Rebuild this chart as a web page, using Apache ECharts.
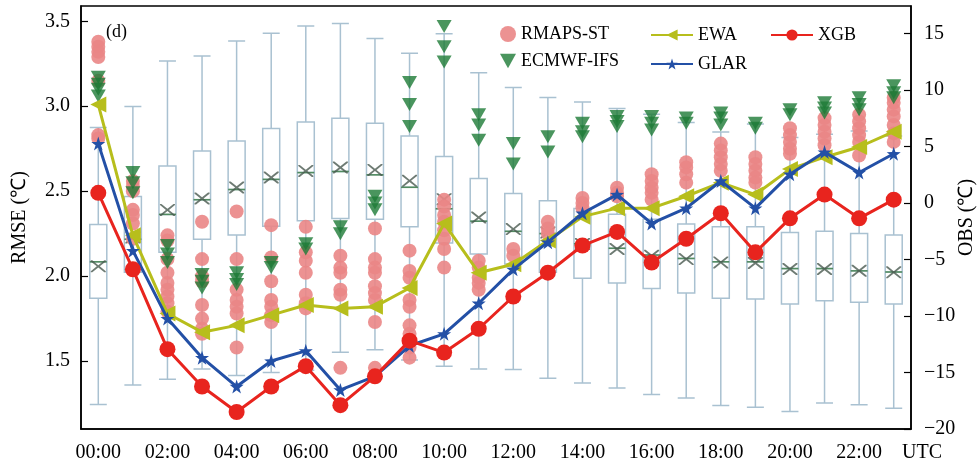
<!DOCTYPE html>
<html>
<head>
<meta charset="utf-8">
<script src="https://cdn.jsdelivr.net/npm/echarts@6/dist/echarts.min.js"></script>
<style>
html,body{margin:0;padding:0;background:#fff;}
#chart{width:979px;height:469px;}
</style>
</head>
<body>
<div id="chart"></div>
<script>
const hours = ['00:00','01:00','02:00','03:00','04:00','05:00','06:00','07:00','08:00','09:00','10:00','11:00',
  '12:00','13:00','14:00','15:00','16:00','17:00','18:00','19:00','20:00','21:00','22:00','23:00'];

// RMSE lines (left axis)
const ewa  = [3.01,2.24,1.78,1.67,1.71,1.77,1.83,1.81,1.82,1.93,2.31,2.02,2.07,2.21,2.35,2.40,2.40,2.47,2.55,2.48,2.63,2.70,2.76,2.85];
const glar = [2.78,2.15,1.75,1.52,1.35,1.50,1.56,1.33,1.41,1.59,1.66,1.84,2.04,2.20,2.37,2.48,2.31,2.40,2.56,2.40,2.60,2.73,2.61,2.72];
const xgb  = [2.49,2.04,1.57,1.35,1.20,1.35,1.47,1.24,1.41,1.62,1.55,1.69,1.88,2.02,2.18,2.26,2.08,2.22,2.37,2.14,2.34,2.48,2.34,2.45];

// RMAPS-ST RMSE points per hour
const rmapsSt = [
  [3.38,3.35,3.32,3.29,3.15,2.83,2.81],
  [2.56,2.53,2.50,2.39,2.36,2.31,2.22],
  [2.24,2.21,2.10,2.02,1.96,1.92,1.88,1.84,1.79],
  [2.32,2.10,2.00,1.97,1.83,1.75,1.69,1.66],
  [2.38,2.10,1.92,1.86,1.82,1.78,1.58],
  [2.30,2.11,1.97,1.86,1.82,1.77,1.73],
  [2.29,2.14,2.09,2.02,1.89,1.84,1.81],
  [2.12,2.05,2.02,1.92,1.89,1.46],
  [2.28,2.10,2.05,2.02,1.94,1.90,1.86,1.73,1.46],
  [2.15,2.03,1.99,1.86,1.82,1.71,1.66,1.58,1.52],
  [2.45,2.41,2.36,2.32,2.27,2.22,2.16,2.05],
  [2.09,2.05,1.99,1.96,1.92],
  [2.16,2.12],
  [2.32,2.28,2.25],
  [2.46,2.43,2.40],
  [2.52,2.49,2.47],
  [2.60,2.56,2.52,2.49,2.45],
  [2.67,2.64,2.60,2.55],
  [2.78,2.74,2.70,2.66,2.62],
  [2.70,2.66,2.62,2.58,2.55],
  [2.87,2.83,2.79,2.75,2.72],
  [2.93,2.89,2.85,2.81,2.77],
  [2.95,2.91,2.87,2.83,2.79,2.71],
  [3.05,3.02,2.98,2.94,2.89,2.84,2.79]
];

// ECMWF-IFS RMSE points per hour
const ecmwfIfs = [
  [3.17,3.13,3.10,3.06],
  [2.61,2.55,2.49],
  [2.18,2.13,2.08],
  [2.01,1.97,1.93],
  [2.02,1.98,1.95],
  [2.08,2.05],
  [2.19,2.16],
  [2.29,2.25],
  [2.47,2.43,2.39],
  [3.14,3.01,2.88],
  [3.47,3.35,3.26],
  [2.95,2.89,2.80],
  [2.78,2.66],
  [2.82,2.73],
  [2.90,2.85,2.82],
  [2.94,2.91,2.88],
  [2.94,2.90,2.86],
  [2.93,2.90],
  [2.96,2.93,2.89],
  [2.90,2.87],
  [2.98,2.95],
  [3.02,2.99,2.96],
  [3.05,3.01,2.98],
  [3.12,3.08,3.05]
];

// OBS box statistics (right axis): [min, Q1, median, Q3, max]
const obsBox = [
  [-17.84,-8.43,-5.2,-1.9,6.69],
  [-16.1,-6.13,-3.2,0.59,8.55],
  [-15.6,-4.36,-1.0,3.29,12.58],
  [-14.68,-3.2,0.3,4.62,13.02],
  [-15.27,-2.83,1.2,5.5,14.35],
  [-15.0,-2.06,2.1,6.6,15.03],
  [-14.8,-1.57,2.7,7.18,15.67],
  [-13.2,-1.36,2.8,7.51,15.91],
  [-12.98,-1.42,2.5,7.07,14.58],
  [-13.9,-2.1,1.4,5.95,13.26],
  [-14.44,-3.54,-0.5,4.12,15.0],
  [-14.68,-4.51,-1.6,2.18,11.55],
  [-14.74,-5.4,-2.5,0.85,10.23],
  [-15.5,-6.13,-2.7,0.2,9.34],
  [-15.92,-6.66,-3.6,-0.47,8.95],
  [-16.36,-7.08,-4.0,-0.98,8.37],
  [-16.95,-7.55,-4.6,-1.42,7.86],
  [-17.25,-7.96,-4.9,-1.86,7.13],
  [-17.93,-8.43,-5.2,-2.1,6.3],
  [-18.07,-8.49,-5.2,-2.1,7.0],
  [-18.46,-8.93,-5.8,-2.6,5.8],
  [-17.69,-8.64,-5.8,-2.5,6.1],
  [-17.86,-8.78,-6.0,-2.69,6.39],
  [-18.16,-8.93,-6.1,-2.83,5.95]
];
const obsMean = [-5.6,-3.04,-0.6,0.41,1.38,2.27,2.85,3.15,2.94,1.97,0.35,-1.27,-2.3,-2.6,-3.63,-4.07,-4.66,-4.96,-5.25,-5.3,-5.84,-5.84,-5.99,-6.13];

const leftTicks = [1.5,2.0,2.5,3.0,3.5];
const rightTicks = [-20,-15,-10,-5,0,5,10,15];

const FONT = "'Liberation Serif','Times New Roman',serif";

function flatten(groups){
  const out = [];
  groups.forEach((g,i)=>g.forEach(v=>out.push([i,v])));
  return out;
}

const starPath = 'path://M50,0L61.8,35.1L98.9,35.3L69.1,57.4L80.3,92.7L50,71.2L19.7,92.7L30.9,57.4L1.1,35.3L38.2,35.1Z';
const xPath = 'path://M0,0L1,0L5,4L9,0L10,0L10,1L6,5L10,9L10,10L9,10L5,6L1,10L0,10L0,9L4,5L0,1Z';
const downTri = 'path://M0,0L10,0L5,9Z';

const chart = echarts.init(document.getElementById('chart'), null, {renderer:'canvas'});
chart.setOption({
  animation:false,
  backgroundColor:'#fff',
  textStyle:{fontFamily:FONT},
  title:{text:'(d)', left:101, top:18, textStyle:{fontFamily:FONT, fontSize:18, fontWeight:'normal', color:'#000'}},
  graphic:[{type:'text', left:902, top:443, style:{text:'UTC', fontFamily:FONT, fontSize:20, fill:'#000'}}],
  grid:{left:81, right:68, top:6, bottom:40, show:true, borderColor:'#000', borderWidth:1.5, containLabel:false, outerBoundsMode:'none'},
  legend:[
    {data:[{name:'RMAPS-ST', icon:'circle'},{name:'ECMWF-IFS', icon:downTri}], orient:'vertical', left:495, top:20, itemWidth:16, itemHeight:16, itemGap:9,
     textStyle:{fontFamily:FONT, fontSize:18, color:'#000'}},
    {data:['EWA','GLAR'], orient:'vertical', left:645, top:21, itemWidth:42, itemHeight:14, itemGap:11,
     textStyle:{fontFamily:FONT, fontSize:18, color:'#000'}},
    {data:['XGB'], orient:'vertical', left:765, top:21, itemWidth:42, itemHeight:14, itemGap:11,
     textStyle:{fontFamily:FONT, fontSize:18, color:'#000'}}
  ],
  xAxis:{
    type:'category', data:hours, boundaryGap:true,
    axisLine:{onZero:false, lineStyle:{color:'#000', width:1.5}},
    axisTick:{inside:true, length:7, alignWithLabel:true, interval:0, lineStyle:{color:'#000', width:1.2}},
    axisLabel:{interval:1, margin:14, fontFamily:FONT, fontSize:20, color:'#000'},
    splitLine:{show:false}
  },
  yAxis:[
    {type:'value', min:1.1, max:3.59, name:'RMSE (℃)', nameLocation:'middle', nameGap:51, nameRotate:90, nameMoveOverlap:false,
     nameTextStyle:{fontFamily:FONT, fontSize:20, color:'#000'},
     axisLine:{show:true, onZero:false, lineStyle:{color:'#000', width:1.5}},
     axisTick:{show:true, inside:true, length:7, customValues:leftTicks, lineStyle:{color:'#000', width:1.2}},
     axisLabel:{customValues:leftTicks, margin:11, fontFamily:FONT, fontSize:20, color:'#000', formatter:v=>v.toFixed(1)},
     splitLine:{show:false}},
    {type:'value', min:-20, max:17.45, position:'right', name:'OBS (℃)', nameLocation:'middle', nameGap:46, nameRotate:90, nameMoveOverlap:false,
     nameTextStyle:{fontFamily:FONT, fontSize:20, color:'#000'},
     axisLine:{show:true, onZero:false, lineStyle:{color:'#000', width:1.5}},
     axisTick:{show:true, inside:true, length:7, customValues:rightTicks, lineStyle:{color:'#000', width:1.2}},
     axisLabel:{customValues:rightTicks, margin:13, fontFamily:FONT, fontSize:20, color:'#000', formatter:v=>String(v).replace('-','\u2212')},
     splitLine:{show:false}}
  ],
  series:[
    {name:'OBS', type:'boxplot', yAxisIndex:1, data:obsBox, boxWidth:[17,17], z:1,
     itemStyle:{color:'rgba(255,255,255,0)', borderColor:'#a9c1d1', borderWidth:1.5}},
    {name:'OBS median', type:'scatter', yAxisIndex:1, data:obsBox.map((b,i)=>[i,b[2]]), symbol:'rect', symbolSize:[17,1.6], z:2,
     itemStyle:{color:'#3b7d44'}},
    {name:'OBS mean', type:'scatter', yAxisIndex:1, data:obsMean.map((v,i)=>[i,v]), symbol:xPath, symbolSize:[15,12], z:2,
     itemStyle:{color:'#4a5a50'}},
    {name:'RMAPS-ST', type:'scatter', yAxisIndex:0, data:flatten(rmapsSt), symbol:'circle', symbolSize:14, z:3,
     itemStyle:{color:'#ea8686', opacity:0.9}},
    {name:'ECMWF-IFS', type:'scatter', yAxisIndex:0, data:flatten(ecmwfIfs), symbol:downTri, symbolSize:[15,13], z:4,
     itemStyle:{color:'#1d7a36'}},
    {name:'EWA', type:'line', yAxisIndex:0, data:ewa, symbol:'triangle', symbolRotate:90, symbolSize:16, z:5,
     lineStyle:{color:'#b7be1c', width:3}, itemStyle:{color:'#b7be1c'}},
    {name:'GLAR', type:'line', yAxisIndex:0, data:glar, symbol:starPath, symbolSize:14, z:6,
     lineStyle:{color:'#2350a6', width:3}, itemStyle:{color:'#2350a6'}},
    {name:'XGB', type:'line', yAxisIndex:0, data:xgb, symbol:'circle', symbolSize:16, z:7,
     lineStyle:{color:'#e8241e', width:3}, itemStyle:{color:'#e8241e'}}
  ]
});
</script>
</body>
</html>
